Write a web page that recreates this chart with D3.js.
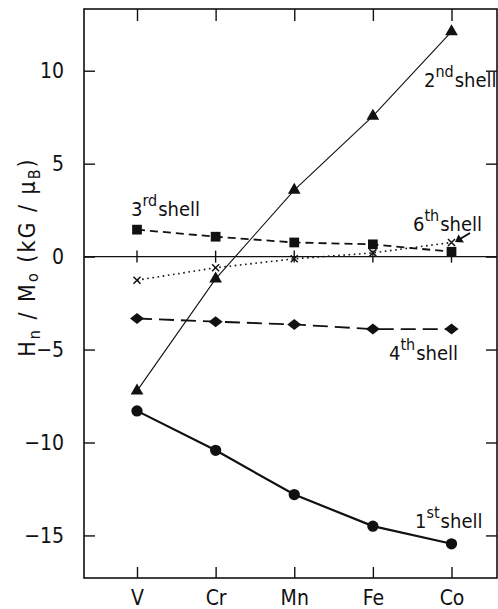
<!DOCTYPE html>
<html><head><meta charset="utf-8">
<script src="https://cdn.jsdelivr.net/npm/d3@7"></script>
<style>
body{margin:0;background:#fff;}
text{font-family:"DejaVu Sans Condensed","DejaVu Sans",sans-serif;fill:#111;}
</style></head>
<body>
<svg id="c" width="498" height="609"></svg>
<script>
const categories = ["V","Cr","Mn","Fe","Co"];
const shell1 = [-8.3,-10.42,-12.8,-14.5,-15.45];
const shell2 = [-7.22,-1.2,3.58,7.56,12.1];
const shell3 = [1.45,1.07,0.76,0.66,0.26];
const shell4 = [-3.33,-3.5,-3.65,-3.9,-3.9];
const shell6 = [-1.27,-0.6,-0.12,0.2,0.76];
const yTicks = [-15,-10,-5,0,5,10];
const yTickLabels = ["\u221215","\u221210","\u22125","0","5","10"];

const svg = d3.select("#c");
const L=84,R=497,T=9,B=578;
const x = d3.scalePoint().domain(categories).range([137,451.5]);
const y = d3.scaleLinear().domain([-17.29,13.32]).range([B,T]);
const ink="#111";

// frame
svg.append("rect").attr("x",L).attr("y",T).attr("width",R-L).attr("height",B-T)
  .attr("fill","none").attr("stroke",ink).attr("stroke-width",1.6);

// left axis
const la = svg.append("g").attr("transform",`translate(${L},0)`)
  .call(d3.axisLeft(y).tickValues(yTicks).tickSize(-11).tickPadding(16)
    .tickFormat((d,i)=>yTickLabels[i]));
la.select(".domain").remove();
la.selectAll("line").attr("stroke",ink).attr("stroke-width",1.4);
la.selectAll("text").attr("font-size",21).attr("font-family",null).attr("fill",ink).attr("dx","-4");
// right axis
const ra = svg.append("g").attr("transform",`translate(${R},0)`)
  .call(d3.axisRight(y).tickValues(yTicks).tickSize(-11).tickFormat(""));
ra.select(".domain").remove();
ra.selectAll("line").attr("stroke",ink).attr("stroke-width",1.4);
// bottom axis
const ba = svg.append("g").attr("transform",`translate(0,${B})`)
  .call(d3.axisBottom(x).tickSize(-11));
ba.select(".domain").remove();
ba.selectAll("line").attr("stroke",ink).attr("stroke-width",1.4);
ba.selectAll("text").attr("font-size",21).attr("font-family",null).attr("fill",ink)
  .attr("y",27).attr("dy",0);
// top axis
const ta = svg.append("g").attr("transform",`translate(0,${T})`)
  .call(d3.axisTop(x).tickSize(-12).tickFormat(""));
ta.select(".domain").remove();
ta.selectAll("line").attr("stroke",ink).attr("stroke-width",1.4);

// zero line with crossing ticks
svg.append("line").attr("x1",L).attr("x2",R).attr("y1",y(0)).attr("y2",y(0))
  .attr("stroke",ink).attr("stroke-width",1.4);
svg.append("g").selectAll("line").data(categories).join("line")
  .attr("x1",d=>x(d)).attr("x2",d=>x(d)).attr("y1",y(0)-6).attr("y2",y(0)+6)
  .attr("stroke",ink).attr("stroke-width",1.4);

// series
const diamond = "M-7,0L0,-5.5L7,0L0,5.5Z";
const series = [
  {vals:shell1, w:2.2, dash:null, sym:d3.symbol(d3.symbolCircle,100)()},
  {vals:shell2, w:1.1, dash:null, sym:d3.symbol(d3.symbolTriangle,70)()},
  {vals:shell3, w:1.8, dash:"8,5", sym:d3.symbol(d3.symbolSquare,95)()},
  {vals:shell4, w:1.8, dash:"15,7", sym:diamond},
  {vals:shell6, w:1.6, dash:"1.6,3.6", sym:null}
];
const line = d3.line().x((d,i)=>x(categories[i])).y(d=>y(d));
series.forEach(s=>{
  svg.append("path").datum(s.vals).attr("d",line).attr("fill","none")
    .attr("stroke",ink).attr("stroke-width",s.w).attr("stroke-dasharray",s.dash);
  if(s.sym){
    svg.append("g").selectAll("path").data(s.vals).join("path")
      .attr("transform",(d,i)=>`translate(${x(categories[i])},${y(d)})`)
      .attr("d",s.sym).attr("fill",ink);
  } else {
    svg.append("g").selectAll("path").data(s.vals).join("path")
      .attr("transform",(d,i)=>`translate(${x(categories[i])},${y(d)})`)
      .attr("d","M-3.5,-3.5L3.5,3.5M-3.5,3.5L3.5,-3.5").attr("stroke",ink).attr("stroke-width",1.5);
  }
});

// shell labels
function shellLabel(xp,yp,num,sup){
  const t=svg.append("text").attr("x",xp).attr("y",yp).attr("font-size",20);
  t.append("tspan").text(num);
  t.append("tspan").text(sup).attr("font-size",16).attr("dy",-10);
  t.append("tspan").text("shell").attr("dy",10).attr("dx",1);
}
shellLabel(424,87,"2","nd");
shellLabel(131,216,"3","rd");
shellLabel(413,231,"6","th");
shellLabel(389,360,"4","th");
shellLabel(415,528,"1","st");

// arrow to 6th shell point
svg.append("line").attr("x1",470).attr("y1",233).attr("x2",460).attr("y2",239)
  .attr("stroke",ink).attr("stroke-width",2);
svg.append("path").attr("d","M455,242 L458.5,234.5 L464,242.5 Z").attr("fill",ink);

// y label
const yl = svg.append("text").attr("transform","translate(35,257) rotate(-90)")
  .attr("text-anchor","middle").attr("font-size",23).attr("letter-spacing",2);
yl.append("tspan").text("H");
yl.append("tspan").text("n").attr("font-size",16).attr("dy",5);
yl.append("tspan").text(" / M").attr("dy",-5);
yl.append("tspan").text("o").attr("font-size",16).attr("dy",3);
yl.append("tspan").text("  (kG / \u03bc").attr("dy",-3);
yl.append("tspan").text("B").attr("font-size",16).attr("dy",5);
yl.append("tspan").text(")").attr("dy",-5);
</script>
</body></html>
